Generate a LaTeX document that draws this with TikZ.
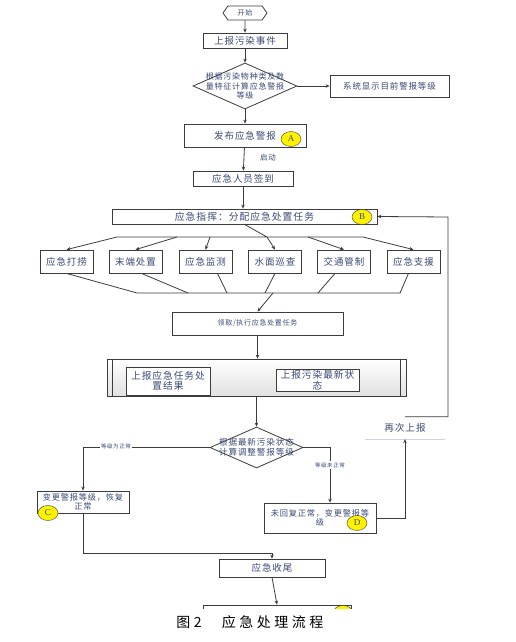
\documentclass[tikz,border=0pt]{standalone}
\usepackage{fontspec}
\setmainfont[LetterSpace=10]{Noto Sans CJK SC}
\newfontfamily\capfont[LetterSpace=25]{Noto Sans CJK SC}
\newfontfamily\letfont{Liberation Serif}
\usetikzlibrary{arrows.meta,shapes.geometric,shapes.symbols}
\definecolor{boxtxt}{HTML}{3A4A75}
\definecolor{linegray}{HTML}{3C3C3C}
\definecolor{markyel}{HTML}{FFF200}
\definecolor{paleblue}{HTML}{C8D8EC}
\begin{document}
\begin{tikzpicture}
				[x=1pt,y=-1pt,>={Stealth[length=4pt,width=3.5pt]},
				every node/.style={text=boxtxt},
				proc/.style={rectangle,draw=linegray,line width=.8pt,fill=white,
				inner sep=1pt,align=center,font=\fontsize{9.5}{11}\selectfont},
				judge/.style={diamond,draw=linegray,line width=.8pt,fill=white,inner sep=0pt},
				judgetxt/.style={align=center,font=\fontsize{8}{9.2}\selectfont},
				flag/.style={ellipse,draw=linegray,fill=markyel,minimum width=20pt,
				minimum height=15pt,inner sep=0pt,font=\letfont\fontsize{9}{9}\selectfont},
				tiny/.style={fill=white,inner sep=1pt,font=\fontsize{5.5}{6}\selectfont},
				conn/.style={draw=linegray,line width=.8pt}]
				\useasboundingbox[fill=white] (0,0) rectangle (515,642);

				\node[shape=signal,signal to=east and west,signal pointer angle=110,
				draw=linegray,line width=.8pt,minimum width=44pt,minimum height=14pt,
				inner sep=0pt,font=\fontsize{7}{8}\selectfont] (start) at (245,13) {开始};
				\node[proc,minimum width=84pt,minimum height=15pt] (evt) at (245,40.5) {上报污染事件};
				\node[judge,minimum width=104pt,minimum height=46pt,
				label={[judgetxt]center:根据污染物种类及数\\量特征计算应急警报\\等级}] (j1) at (245,86) {};
				\node[proc,minimum width=119pt,minimum height=22pt,
				font=\fontsize{8.5}{10}\selectfont] (sys) at (389.5,86) {系统显示目前警报等级};
				\node[proc,minimum width=122pt,minimum height=23pt] (alarm) at (245,135.5) {发布应急警报};
				\node[flag] (fa) at (291,139) {A};
				\node[font=\fontsize{7.5}{8}\selectfont] (go) at (268,158) {启动};
				\node[proc,minimum width=100pt,minimum height=15pt] (sign) at (243,178.5) {应急人员签到};
				\node[proc,minimum width=265pt,minimum height=15pt,
				font=\fontsize{9.8}{11}\selectfont] (cmd) at (244.5,216.5) {应急指挥：分配应急处置任务};
				\node[flag] (fb) at (362,217) {B};

				% six tasks
				\foreach \name/\x/\txt in {m1/66.5/应急打捞,m2/135.5/末端处置,m3/205.5/应急监测,
				m4/275/水面巡查,m5/344/交通管制,m6/413.5/应急支援}
				\node[proc,minimum width=53pt,minimum height=23pt] (\name) at (\x,261.5) {\txt};
				\foreach \i/\x in {1/117,2/177,3/210,4/267,5/308,6/363}
				\coordinate (d\i) at (\x,237);
				\foreach \i/\x in {1/137,2/188,3/227,4/265,5/318,6/400}
				\coordinate (g\i) at (\x,293);
				\coordinate (gx) at (273,293);

				\node[proc,minimum width=171pt,minimum height=23pt,
				font=\fontsize{7}{8}\selectfont] (exe) at (257.5,323.5) {领取/执行应急处置任务};
				\node[rectangle,draw=linegray,line width=.8pt,top color=white,bottom color=black!12,
				minimum width=299pt,minimum height=37pt] (rep) at (256.5,377.5) {};
				\draw[conn] ([xshift=6pt]rep.north west) -- ([xshift=6pt]rep.south west)
				([xshift=-6pt]rep.north east) -- ([xshift=-6pt]rep.south east);
				\node[proc,minimum width=84pt,minimum height=28pt,
				font=\fontsize{9.7}{10.5}\selectfont] (r1) at (168,381) {上报应急任务处\\置结果};
				\node[proc,minimum width=83pt,minimum height=22pt,
				font=\fontsize{9.7}{10.5}\selectfont] (r2) at (317.5,380) {上报污染最新状\\态};
				\node[judge,minimum width=93pt,minimum height=41pt,
				label={[judgetxt,font=\fontsize{8.6}{9.6}\selectfont]center:根据最新污染状态\\计算调整警报等级}] (j2) at (256.5,447.5) {};

				\node[proc,minimum width=92pt,minimum height=22pt,
				font=\fontsize{8.2}{8.8}\selectfont] (cok) at (83,502) {变更警报等级，恢复\\正常};
				\node[flag] (fc) at (48,513) {C};
				\node[proc,minimum width=112pt,minimum height=30pt,
				font=\fontsize{8.2}{9.5}\selectfont] (dno) at (320,518) {未回复正常，变更警报等\\级};
				\node[flag] (fd) at (357,523) {D};
				\node[minimum width=80pt,minimum height=22pt,inner sep=0pt,
				font=\fontsize{9.6}{11}\selectfont] (again) at (405,428) {再次上报};
				\draw[paleblue,line width=.8pt] (again.south west) -- (again.south east);
				\node[proc,minimum width=106pt,minimum height=18pt] (close) at (272,568) {应急收尾};
				\begin{scope}
				\clip (0,600) rectangle (515,608.5);
				\node[proc,minimum width=148pt,minimum height=20pt] (fin) at (277,615) {};
				\node[flag] (fe) at (343,613) {};
				\end{scope}

				\foreach \from/\to in {start/evt,evt/j1,j1/alarm,j1/sys,alarm/sign}
				\draw[conn,->] (\from) -- (\to);
				\draw[conn,->] (sign.south) -- (sign.south |- cmd.north);
				\draw[conn] (cmd.south) -- (d4) (d1) -- (d6) (g1) -- (g6);
				\foreach \i in {1,...,6}
				\draw[conn,->] (d\i) -- (m\i.north);
				\foreach \i/\s in {1/0,2/6,3/12,4/0,5/-9,6/-5}
				\draw[conn] ([xshift=\s pt]m\i.south) -- (g\i);
				\draw[conn,->] (gx) -- (exe.north);
				\draw[conn,->] (exe.south) -- (exe.south |- rep.north);
				\draw[conn,->] (rep.south -| j2.north) -- (j2.north);

				\coordinate (cl) at (83,447.5);
				\coordinate (cr) at (330,447.5);
				\coordinate (cb) at (272,553);
				\coordinate (rt) at (448,217);
				\draw[conn,->] (j2.west) -- (cl) -- (cok.north);
				\node[tiny] (lok) at (116,446) {等级为正常};
				\draw[conn,->] (j2.east) -- (cr) -- (cr |- dno.north);
				\node[tiny] (lno) at (330,465) {等级未正常};
				\draw[conn,->] (cok.south) |- (cb) -- (close.north);
				\draw[conn,->] (dno.east) -| (again.south);
				\draw[conn,->] (again.north) -- (again.north -| rt) -- (rt) -- (cmd.east);
				\draw[conn,->] (close.south) -- (fin.north);

				\node[text=black,font=\capfont\fontsize{14}{16}\selectfont] (capn) at (189,622) {图2};
				\node[text=black,font=\capfont\fontsize{14}{16}\selectfont] (capt) at (272.5,622) {应急处理流程};
			\end{tikzpicture}
\end{document}
